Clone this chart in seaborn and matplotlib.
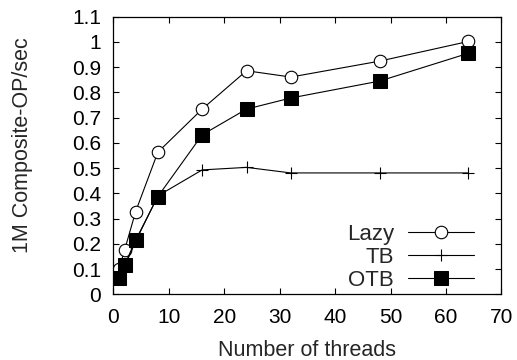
import matplotlib
matplotlib.use("Agg")
import matplotlib.pyplot as plt
import seaborn as sns
import pandas as pd

threads = [1, 2, 4, 8, 16, 24, 32, 48, 64]
lazy = [0.10, 0.175, 0.328, 0.563, 0.734, 0.886, 0.861, 0.924, 1.002]
tb = [0.07, 0.11, 0.21, 0.39, 0.493, 0.503, 0.481, 0.481, 0.481]
otb = [0.066, 0.116, 0.215, 0.387, 0.632, 0.734, 0.778, 0.845, 0.955]
series_names = ["Lazy", "TB", "OTB"]
x_ticks = [0, 10, 20, 30, 40, 50, 60, 70]
y_ticks = [0, 0.1, 0.2, 0.3, 0.4, 0.5, 0.6, 0.7, 0.8, 0.9, 1, 1.1]
y_tick_labels = ["0", "0.1", "0.2", "0.3", "0.4", "0.5", "0.6", "0.7", "0.8", "0.9", "1", "1.1"]

df = pd.DataFrame({
    "threads": threads * 3,
    "value": lazy + tb + otb,
    "series": sum([[n] * len(threads) for n in series_names], []),
})

sns.set_theme(style="ticks")
plt.rcParams["font.family"] = ["Liberation Sans", "DejaVu Sans"]

fig = plt.figure(figsize=(5.17, 3.60), dpi=100)
ax = fig.add_axes([0.2195, 0.1825, 0.7505, 0.771])

styles = {
    "Lazy": dict(marker="o", markersize=9, markerfacecolor="white", markeredgecolor="black", markeredgewidth=0.8),
    "TB": dict(marker="+", markersize=9, markeredgewidth=0.8, markeredgecolor="black"),
    "OTB": dict(marker="s", markersize=10, markerfacecolor="black", markeredgecolor="black"),
}
for name in series_names:
    sub = df[df["series"] == name]
    sns.lineplot(data=sub, x="threads", y="value", ax=ax, color="black",
                 linewidth=0.8, label=name, **styles[name])

ax.set_xlim(0, 70)
ax.set_ylim(0, 1.1)
ax.set_xticks(x_ticks)
ax.set_yticks(y_ticks)
ax.set_yticklabels(y_tick_labels)
ax.tick_params(direction="in", top=True, right=True, length=4, width=0.8,
               labelsize=15, colors="black")
ax.tick_params(axis="x", pad=10)
ax.tick_params(axis="y", pad=9)
for s in ax.spines.values():
    s.set_visible(True)
    s.set_linewidth(0.9)
    s.set_color("black")
ax.set_xlabel("Number of threads", fontsize=15.5)
ax.set_ylabel("1M Composite-OP/sec", fontsize=15.5)
ax.xaxis.set_label_coords(0.5, -0.164)
ax.yaxis.set_label_coords(-0.207, 0.538)

leg = ax.legend(loc="lower right", bbox_to_anchor=(0.9296, 0.012),
                frameon=False, markerfirst=False,
                fontsize=16, handlelength=3.0, handletextpad=0.6,
                labelspacing=0.09, borderaxespad=0.0, borderpad=0.0)
for t in leg.get_texts():
    t.set_ha("right")

fig.savefig("out.png", dpi=100)
